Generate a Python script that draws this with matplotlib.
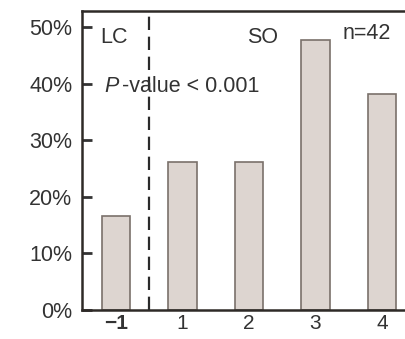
import matplotlib
matplotlib.use("Agg")
import matplotlib.pyplot as plt
from matplotlib.ticker import PercentFormatter

plt.rcParams["font.family"] = ["Liberation Sans", "DejaVu Sans"]

# Share of patients per group (n = 42)
categories = ["\u22121", "1", "2", "3", "4"]
counts = [7, 11, 11, 20, 16]
n_total = 42
shares = [c / n_total * 100 for c in counts]
y_ticks = [0, 10, 20, 30, 40, 50]

text_color = "#333333"
bar_fill = "#ddd5d0"
bar_edge = "#7a716b"
fs = 15.5

fig = plt.figure(figsize=(4.05, 3.39), dpi=100)
ax = fig.add_axes([0.2025, 0.0855, 0.7975, 0.882])

x = list(range(len(categories)))
ax.bar(x, shares, width=0.43, color=bar_fill, edgecolor=bar_edge, linewidth=1.2, zorder=2)

ax.set_xlim(-0.51, 4.347)
ax.set_ylim(0, 52.8)
ax.set_yticks(y_ticks)
ax.yaxis.set_major_formatter(PercentFormatter(decimals=0))
ax.set_xticks(x)
ax.set_xticklabels(categories)

ax.tick_params(axis="y", direction="in", length=7, width=2, color="#333333",
               labelsize=fs, labelcolor=text_color, pad=7)
ax.tick_params(axis="x", length=0, labelsize=15, labelcolor=text_color, pad=3)
for lbl in ax.get_xticklabels():
    if lbl.get_text() == "\u22121":
        lbl.set_fontweight("bold")

for side in ("left", "bottom", "top"):
    ax.spines[side].set_linewidth(1.8)
    ax.spines[side].set_color("#2e2a27")
ax.spines["right"].set_visible(False)

# Divider between LC and SO groups
ax.axvline(0.5, color="#2a2a2a", linewidth=1.6, linestyle=(0, (6, 3)), zorder=3)

ax.text(-0.03, 48.2, "LC", fontsize=fs, color=text_color, ha="center", va="center")
ax.text(2.21, 48.2, "SO", fontsize=fs, color=text_color, ha="center", va="center")
ax.text(3.77, 48.9, f"n={n_total}", fontsize=fs, color=text_color, ha="center", va="center")
ax.text(-0.17, 39.4, "P", fontsize=fs, color=text_color, style="italic",
        ha="left", va="center")
ax.text(0.09, 39.4, "-value < 0.001", fontsize=fs, color=text_color,
        ha="left", va="center")

fig.savefig("out.png", dpi=100)
